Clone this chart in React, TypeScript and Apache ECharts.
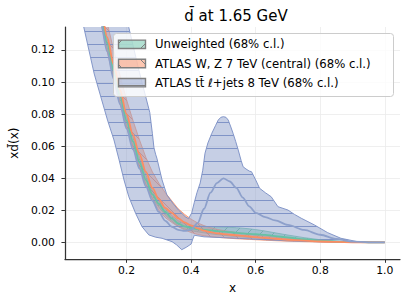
import React, { useEffect, useRef } from "react";
import * as echarts from "echarts";

const FONT = "DejaVu Sans";

const xGrid = [0.06, 0.08, 0.10, 0.12, 0.14, 0.16, 0.18, 0.20, 0.22, 0.24, 0.26, 0.28, 0.30, 0.32, 0.34, 0.36, 0.38, 0.40, 0.42, 0.44, 0.46, 0.48, 0.50, 0.52, 0.54, 0.56, 0.58, 0.60, 0.63, 0.66, 0.70, 0.75, 0.80, 0.85, 0.90, 0.95, 1.00];

const unwCentral = [0.200, 0.180, 0.160, 0.141, 0.124, 0.107, 0.091, 0.076, 0.063, 0.050, 0.039, 0.030, 0.024, 0.019, 0.015, 0.0118, 0.0100, 0.0090, 0.0084, 0.0079, 0.0075, 0.0071, 0.0068, 0.0064, 0.0060, 0.0057, 0.0054, 0.0051, 0.0047, 0.0040, 0.0031, 0.0020, 0.0011, 0.0005, 0.0002, 0.0001, 0.0];
const unwUpper = [0.205, 0.184, 0.164, 0.144, 0.127, 0.110, 0.094, 0.079, 0.066, 0.053, 0.042, 0.0325, 0.026, 0.021, 0.0168, 0.0136, 0.0118, 0.0108, 0.0103, 0.0100, 0.0098, 0.0097, 0.0096, 0.0094, 0.0092, 0.0089, 0.0085, 0.0080, 0.0071, 0.0060, 0.0046, 0.0030, 0.0017, 0.0008, 0.0003, 0.0001, 0.0];
const unwLower = [0.195, 0.176, 0.156, 0.138, 0.121, 0.104, 0.088, 0.073, 0.060, 0.047, 0.036, 0.0275, 0.022, 0.017, 0.0133, 0.0101, 0.0083, 0.0073, 0.0066, 0.0060, 0.0054, 0.0049, 0.0045, 0.0041, 0.0037, 0.0034, 0.0031, 0.0028, 0.0025, 0.0021, 0.0016, 0.0010, 0.0006, 0.0003, 0.0001, 0.0, 0.0];

const wzCentral = [0.205, 0.185, 0.165, 0.146, 0.128, 0.111, 0.095, 0.080, 0.067, 0.055, 0.044, 0.034, 0.027, 0.0215, 0.0185, 0.015, 0.0125, 0.0105, 0.0088, 0.0074, 0.0064, 0.0057, 0.0052, 0.0048, 0.0045, 0.0041, 0.0037, 0.0033, 0.0028, 0.0023, 0.0017, 0.0011, 0.0006, 0.0003, 0.0001, 0.0, 0.0];
const wzUpper = [0.215, 0.195, 0.175, 0.155, 0.137, 0.120, 0.104, 0.089, 0.076, 0.064, 0.053, 0.044, 0.037, 0.031, 0.026, 0.021, 0.0175, 0.0145, 0.0122, 0.0105, 0.0092, 0.0082, 0.0074, 0.0068, 0.0062, 0.0057, 0.0052, 0.0047, 0.0040, 0.0034, 0.0026, 0.0017, 0.0010, 0.0005, 0.0002, 0.0001, 0.0];
const wzLower = [0.195, 0.175, 0.155, 0.137, 0.119, 0.102, 0.086, 0.072, 0.059, 0.047, 0.036, 0.027, 0.020, 0.0155, 0.0125, 0.0098, 0.0078, 0.0062, 0.0050, 0.0042, 0.0036, 0.0032, 0.0029, 0.0026, 0.0023, 0.0021, 0.0019, 0.0017, 0.0014, 0.0011, 0.0008, 0.0005, 0.0003, 0.0001, 0.0, 0.0, 0.0];

const ttCentral = [0.195, 0.175, 0.156, 0.137, 0.119, 0.102, 0.086, 0.071, 0.058, 0.046, 0.035, 0.026, 0.019, 0.0135, 0.0098, 0.0078, 0.0072, 0.0080, 0.012, 0.021, 0.031, 0.037, 0.040, 0.038, 0.034, 0.028, 0.0225, 0.0185, 0.0158, 0.0138, 0.0109, 0.0078, 0.0048, 0.0022, 0.0005, 0.0001, 0.0];
const ttUpperX = [0.06, 0.10, 0.14, 0.18, 0.207, 0.24, 0.272, 0.28, 0.285, 0.29, 0.294, 0.31, 0.325, 0.345, 0.361, 0.382, 0.392, 0.402, 0.41, 0.418, 0.428, 0.436, 0.443, 0.452, 0.464, 0.476, 0.484, 0.492, 0.50, 0.508, 0.515, 0.523, 0.53, 0.538, 0.546, 0.555, 0.561, 0.57, 0.58, 0.587, 0.60, 0.612, 0.63, 0.648, 0.669, 0.70, 0.72, 0.741, 0.782, 0.823, 0.864, 0.915, 0.95, 1.0];
const ttUpperY = [0.26, 0.226, 0.192, 0.157, 0.134, 0.106, 0.081, 0.068, 0.059, 0.055, 0.0525, 0.039, 0.0296, 0.024, 0.0202, 0.016, 0.0148, 0.0185, 0.025, 0.031, 0.037, 0.045, 0.0556, 0.062, 0.068, 0.073, 0.0763, 0.078, 0.0784, 0.078, 0.0763, 0.072, 0.068, 0.063, 0.0576, 0.051, 0.0472, 0.0458, 0.0445, 0.0441, 0.039, 0.0338, 0.031, 0.0285, 0.0223, 0.0202, 0.0175, 0.0151, 0.0109, 0.0061, 0.0026, 0.0005, 0.0001, 0.0];
const ttLowerX = [0.06, 0.10, 0.141, 0.161, 0.177, 0.192, 0.207, 0.228, 0.248, 0.269, 0.29, 0.31, 0.341, 0.355, 0.371, 0.385, 0.40, 0.405, 0.41, 0.44, 0.50, 0.55, 0.60, 0.70, 0.80, 0.90, 1.0];
const ttLowerY = [0.141, 0.105, 0.0763, 0.0639, 0.0514, 0.039, 0.0285, 0.0182, 0.0098, 0.0047, 0.0033, 0.0026, 0.0005, -0.0015, -0.0045, -0.003, -0.001, 0.002, 0.0045, 0.0035, 0.003, 0.0025, 0.002, 0.001, 0.0004, 0.0001, 0.0];

const xTicks = [0.2, 0.4, 0.6, 0.8, 1.0];
const yTicks = [0.0, 0.02, 0.04, 0.06, 0.08, 0.10, 0.12];

const titleText = "d\u0304 at 1.65 GeV";
const xName = "x";
const yName = "xd\u0304(x)";
const legendLabels = [
  "Unweighted (68% c.l.)",
  "ATLAS W, Z 7 TeV (central) (68% c.l.)",
  "ATLAS tt\u0304 \u2113+jets 8 TeV (68% c.l.)",
];

const GREEN = "#66c2a5";
const ORANGE = "#fc8d62";
const BLUE = "#8da0cb";

function hatch(kind: string, bg: string, line: string, size = 13, offset = 5): HTMLCanvasElement {
  const c = document.createElement("canvas");
  c.width = size;
  c.height = size;
  const ctx = c.getContext("2d")!;
  ctx.fillStyle = bg;
  ctx.fillRect(0, 0, size, size);
  ctx.strokeStyle = line;
  ctx.lineWidth = 1;
  ctx.beginPath();
  if (kind === "-") {
    ctx.moveTo(0, offset + 0.5);
    ctx.lineTo(size, offset + 0.5);
  } else if (kind === "/") {
    ctx.moveTo(-1, size + 1);
    ctx.lineTo(size + 1, -1);
    ctx.moveTo(-1, 1);
    ctx.lineTo(1, -1);
    ctx.moveTo(size - 1, size + 1);
    ctx.lineTo(size + 1, size - 1);
  } else {
    ctx.moveTo(-1, -1);
    ctx.lineTo(size + 1, size + 1);
    ctx.moveTo(size - 1, -1);
    ctx.lineTo(size + 1, 1);
    ctx.moveTo(-1, size - 1);
    ctx.lineTo(1, size + 1);
  }
  ctx.stroke();
  return c;
}

export default function App() {
  const ref = useRef<HTMLDivElement>(null);
  useEffect(() => {
    const chart = echarts.init(ref.current!, null, { renderer: "svg" });

    const greenFill = { image: hatch("/", "rgba(102,194,165,0.5)", "rgba(80,170,140,0.8)"), repeat: "repeat" };
    const orangeFill = { image: hatch("\\", "rgba(252,141,98,0.5)", "rgba(225,110,80,0.7)"), repeat: "repeat" };
    const blueFill = { image: hatch("-", "rgba(141,160,203,0.5)", "rgba(125,145,198,0.95)"), repeat: "repeat" };
    const greenPatch = { image: hatch("/", "rgba(102,194,165,0.5)", "#7f7f7f", 27), repeat: "repeat" };
    const orangePatch = { image: hatch("\\", "rgba(252,141,98,0.5)", "#7f7f7f", 27), repeat: "repeat" };
    const bluePatch = { image: hatch("-", "rgba(141,160,203,0.5)", "#7f7f7f", 27, 4), repeat: "repeat" };

    const band = (name: string, ux: number[], uy: number[], lx: number[], ly: number[], fill: any, stroke: string, z: number) => ({
      type: "custom",
      name,
      coordinateSystem: "cartesian2d",
      clip: true,
      silent: true,
      z,
      data: [[0.5, 0.0]],
      renderItem: (params: any, api: any) => {
        const pts: number[][] = [];
        for (let i = 0; i < ux.length; i++) pts.push(api.coord([ux[i], uy[i]]));
        for (let i = lx.length - 1; i >= 0; i--) pts.push(api.coord([lx[i], ly[i]]));
        return {
          type: "polygon",
          shape: { points: pts },
          style: { fill, stroke, lineWidth: 1 },
        };
      },
    });

    const line = (name: string, ys: number[], color: string, z: number) => ({
      type: "line",
      name,
      data: xGrid.map((x, i) => [x, ys[i]]),
      showSymbol: false,
      smooth: 0.3,
      smoothMonotone: "x",
      clip: true,
      silent: true,
      z,
      lineStyle: { color, width: 1.8 },
    });

    const axisCommon = {
      axisLine: { show: true, onZero: false, lineStyle: { color: "#333333", width: 1.25 } },
      splitLine: { show: true, lineStyle: { color: "#ebebeb", width: 0.8 } },
      nameTextStyle: { fontFamily: FONT, fontSize: 12, color: "#000" },
    };

    const rowY = [44.3, 63.5, 82.7];
    const patches = [greenPatch, orangePatch, bluePatch];
    const legendEls: any[] = [
      {
        type: "rect",
        z: 100,
        shape: { x: 113.5, y: 33.5, width: 280, height: 63, r: 3 },
        style: { fill: "rgba(255,255,255,0.8)", stroke: "#cccccc", lineWidth: 1 },
      },
    ];
    legendLabels.forEach((t, i) => {
      legendEls.push({
        type: "rect",
        z: 101,
        shape: { x: 118.5, y: rowY[i] - 4.2, width: 27, height: 8.4 },
        style: { fill: patches[i], stroke: "#7f7f7f", lineWidth: 1.4 },
      });
      legendEls.push({
        type: "text",
        z: 101,
        x: 155,
        y: rowY[i],
        style: { text: t, fontFamily: FONT, fontSize: 11.7, fill: "#000", verticalAlign: "middle", align: "left" },
      });
    });

    chart.setOption({
      animation: false,
      title: {
        text: titleText,
        left: 231,
        top: 3,
        textAlign: "center",
        textStyle: { fontFamily: FONT, fontSize: 15, fontWeight: "normal", color: "#000" },
      },
      grid: { left: 62, right: 7, top: 27, bottom: 44.7, containLabel: false },
      xAxis: {
        type: "value",
        min: 0.0092,
        max: 1.047,
        splitNumber: 5,
        ...axisCommon,
        axisTick: { show: true, customValues: xTicks, length: 3.5, lineStyle: { color: "#333333", width: 1 } },
        axisLabel: {
          customValues: xTicks,
          formatter: (v: number) => v.toFixed(1),
          margin: 6,
          fontFamily: FONT,
          fontSize: 10.8,
          color: "#000",
        },
        name: xName,
        nameLocation: "middle",
        nameGap: 23,
      },
      yAxis: {
        type: "value",
        min: -0.0105,
        max: 0.1343,
        splitNumber: 7,
        ...axisCommon,
        axisTick: { show: true, customValues: yTicks, length: 3.5, lineStyle: { color: "#333333", width: 1 } },
        axisLabel: {
          customValues: yTicks,
          formatter: (v: number) => v.toFixed(2),
          margin: 10,
          fontFamily: FONT,
          fontSize: 10.8,
          color: "#000",
        },
        name: yName,
        nameLocation: "middle",
        nameGap: 38,
        nameRotate: 90,
      },
      series: [
        band(legendLabels[0], xGrid, unwUpper, xGrid, unwLower, greenFill, "rgba(102,194,165,0.8)", 2),
        band(legendLabels[1], xGrid, wzUpper, xGrid, wzLower, orangeFill, "rgba(252,141,98,0.8)", 3),
        band(legendLabels[2], ttUpperX, ttUpperY, ttLowerX, ttLowerY, blueFill, "rgba(125,145,198,0.95)", 4),
        line(legendLabels[0] + " central", unwCentral, GREEN, 5),
        line(legendLabels[1] + " central", wzCentral, ORANGE, 6),
        line(legendLabels[2] + " central", ttCentral, BLUE, 7),
      ],
      graphic: legendEls,
    });
    return () => chart.dispose();
  }, []);
  return <div ref={ref} style={{ position: "absolute", left: 0, top: 0, width: 407, height: 304 }} />;
}
